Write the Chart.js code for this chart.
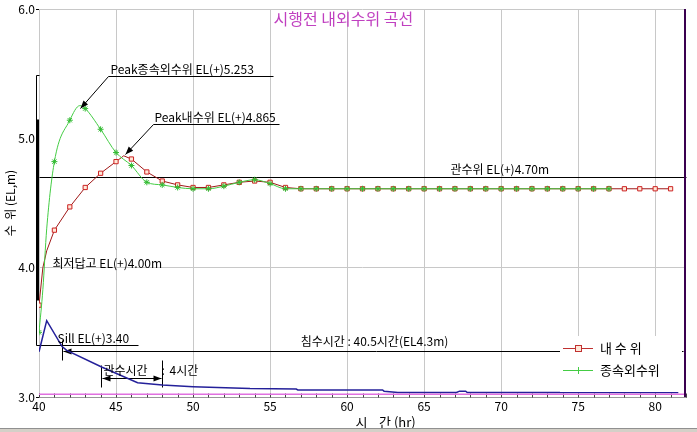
<!DOCTYPE html>
<html>
<head>
<meta charset="utf-8">
<script src="https://cdn.jsdelivr.net/npm/chart.js"></script>
<style>
  body { margin: 0; background: #fff; }
</style>
</head>
<body>
<canvas id="levelChart" width="697" height="432"></canvas>
<script>
    // 내수위 (hr / EL.m)
    var innerHours = [40, 40.25, 40.5, 41, 42, 43, 44, 45, 45.5, 46, 47, 48, 49, 50, 51, 52, 53, 54, 55, 56,
        57, 58, 59, 60, 61, 62, 63, 64, 65, 66, 67, 68, 69, 70, 71, 72, 73, 74, 75, 76, 77, 78, 79, 80, 81];
    var innerLevels = [3.71, 4.00, 4.13, 4.29, 4.47, 4.62, 4.73, 4.82, 4.865, 4.84, 4.74, 4.67, 4.64, 4.62, 4.62, 4.64, 4.66, 4.67, 4.66, 4.62,
        4.61, 4.61, 4.61, 4.61, 4.61, 4.61, 4.61, 4.61, 4.61, 4.61, 4.61, 4.61, 4.61, 4.61, 4.61, 4.61, 4.61, 4.61, 4.61, 4.61, 4.61, 4.61, 4.61, 4.61, 4.61];

    // 종속외수위
    var outerHours = [40, 40.25, 40.5, 41, 42, 42.65, 43, 44, 45, 46, 47, 48, 49, 50, 51, 52, 53, 54, 55, 56,
        57, 58, 59, 60, 61, 62, 63, 64, 65, 66, 67, 68, 69, 70, 71, 72, 73, 74, 75, 76, 77];
    var outerLevels = [3.50, 3.83, 4.30, 4.82, 5.14, 5.253, 5.23, 5.07, 4.89, 4.79, 4.66, 4.64, 4.62, 4.61, 4.61, 4.63, 4.66, 4.68, 4.65, 4.61,
        4.61, 4.61, 4.61, 4.61, 4.61, 4.61, 4.61, 4.61, 4.61, 4.61, 4.61, 4.61, 4.61, 4.61, 4.61, 4.61, 4.61, 4.61, 4.61, 4.61, 4.61];

    // 하단 유량곡선 (blue)
    var flowHours = [40, 40.5, 41.5, 41.8, 44.1, 46.4, 48, 50, 53.7, 56.7, 56.8, 62.3, 62.4, 63.3, 67.1, 67.3, 67.7, 67.8, 81.5];
    var flowLevels = [3.35, 3.59, 3.39, 3.36, 3.23, 3.11, 3.093, 3.08, 3.065, 3.062, 3.055, 3.055, 3.045, 3.035, 3.035, 3.045, 3.045, 3.035, 3.035];

    // 바닥선 (magenta)
    var baseHours = [40, 82];
    var baseLevels = [3.022, 3.022];

    var seriesNames = ['내 수 위', '종속외수위'];
    var xTicks = [40, 45, 50, 55, 60, 65, 70, 75, 80];
    var yTicks = [3.0, 4.0, 5.0, 6.0];

    var titleText = '시행전 내외수위 곡선';
    var peakOuter = 5.253, peakOuterText = 'Peak종속외수위 EL(+)5.253';
    var peakInner = 4.865, peakInnerText = 'Peak내수위 EL(+)4.865';
    var gwanLevel = 4.70, gwanText = '관수위 EL(+)4.70m';
    var lowLevel = 4.00, lowText = '최저답고 EL(+)4.00m';
    var sillLevel = 3.40, sillText = 'Sill EL(+)3.40';
    var floodStart = 41.5, floodEnd = 82, floodText = '침수시간 : 40.5시간(EL4.3m)';
    var gwanStart = 44, gwanEnd = 48, gwanTimeText = ['관수시간', ':', '4시간'];

    function pts(xs, ys) {
        return xs.map(function (x, i) { return { x: x, y: ys[i] }; });
    }

    var FONT = '"Noto Sans CJK KR", "Noto Sans", sans-serif';

    function arrow(c, x1, y1, x2, y2) {
        var a = Math.atan2(y2 - y1, x2 - x1), len = 8, w = 3;
        c.beginPath();
        c.moveTo(x1, y1);
        c.lineTo(x2, y2);
        c.stroke();
        c.beginPath();
        c.moveTo(x2, y2);
        c.lineTo(x2 - len * Math.cos(a) + w * Math.sin(a), y2 - len * Math.sin(a) - w * Math.cos(a));
        c.lineTo(x2 - len * Math.cos(a) - w * Math.sin(a), y2 - len * Math.sin(a) + w * Math.cos(a));
        c.closePath();
        c.fill();
    }

    function line(c, x1, y1, x2, y2) {
        c.beginPath();
        c.moveTo(x1, y1);
        c.lineTo(x2, y2);
        c.stroke();
    }

    var notesPlugin = {
        id: 'notes',
        beforeDatasetsDraw: function (chart) {
            var c = chart.ctx, xs = chart.scales.x, ys = chart.scales.y;
            var X = function (v) { return Math.round(xs.getPixelForValue(v)) + 0.5; };
            var Y = function (v) { return Math.round(ys.getPixelForValue(v)) + 0.5; };
            c.save();
            c.strokeStyle = '#000';
            c.fillStyle = '#000';
            c.lineWidth = 1;

            // 관수위 line
            line(c, X(40), Y(gwanLevel), X(82), Y(gwanLevel));
            // sill line
            line(c, X(39.8), Y(sillLevel), X(46.4), Y(sillLevel));
            // 침수시간 dimension
            var fy = Y(3.355);
            line(c, X(floodStart), Y(3.44), X(floodStart), Y(3.285));
            line(c, X(floodStart) + 8, fy, X(floodEnd) - 4, fy);
            arrow(c, X(floodStart) + 9, fy, X(floodStart) + 1, fy);
            arrow(c, X(floodEnd) - 10, fy, X(floodEnd) - 3, fy);
            // 관수시간 dimension
            var gy = Y(3.147);
            line(c, X(gwanStart), Y(3.245), X(gwanStart), Y(3.075));
            line(c, X(gwanEnd), Y(3.284), X(gwanEnd), Y(3.075));
            arrow(c, X(gwanEnd) - 10, gy, X(gwanStart) + 1, gy);
            arrow(c, X(gwanStart) + 10, gy, X(gwanEnd) - 1, gy);

            // 강우 bar on left
            line(c, X(39.8), Y(5.49), X(39.8), Y(sillLevel));
            line(c, X(39.8), Y(5.49), X(40), Y(5.49));
            c.lineWidth = 3;
            line(c, X(39.8) + 1, Y(5.153), X(39.8) + 1, Y(3.75));
            c.lineWidth = 1;

            // minor ticks
            c.strokeStyle = '#444';
            for (var h = 40; h <= 82; h++) {
                line(c, X(h), Y(3.0), X(h), Y(3.0) - 4);
            }
            c.restore();
        },
        afterDatasetsDraw: function (chart) {
            var c = chart.ctx, xs = chart.scales.x, ys = chart.scales.y, ca = chart.chartArea;
            var X = function (v) { return Math.round(xs.getPixelForValue(v)) + 0.5; };
            var Y = function (v) { return Math.round(ys.getPixelForValue(v)) + 0.5; };
            c.save();
            c.strokeStyle = '#000';
            c.fillStyle = '#000';
            c.lineWidth = 1;
            c.font = '12px ' + FONT;
            c.textBaseline = 'middle';
            c.textAlign = 'left';

            // Peak 종속외수위
            var ex = X(44.48), ey = Y(5.485);
            arrow(c, ex, ey, X(42.66), Y(peakOuter) + 2);
            line(c, ex, ey, X(55.2), ey);
            c.fillText(peakOuterText, ex + 2, ey - 7);

            // Peak 내수위
            ex = X(47.4); ey = Y(5.107);
            arrow(c, ex, ey, X(45.6), Y(peakInner) - 2);
            line(c, ex, ey, X(55.6), ey);
            c.fillText(peakInnerText, ex + 1, ey - 7);

            c.fillText(gwanText, X(66.7), Y(gwanLevel) - 8);
            c.fillText(lowText, X(40.85), Y(lowLevel) - 5);
            c.fillText(sillText, X(41.15), Y(sillLevel) - 7);
            c.textAlign = 'center';
            c.fillText(floodText, X(61.75), Y(3.355) - 10);
            c.textAlign = 'left';
            c.fillText(gwanTimeText[0], X(44.15), Y(3.147) - 8);
            c.fillText(gwanTimeText[1], X(48) - 1, Y(3.147) - 8);
            c.fillText(gwanTimeText[2], X(48.45), Y(3.147) - 8);

            // title
            c.font = '16px ' + FONT;
            c.fillStyle = '#c040c0';
            c.fillText(titleText, X(55.2), ca.top + 10);

            // x axis title
            c.font = '13px ' + FONT;
            c.fillStyle = '#000';
            c.fillText('시    간 (hr)', X(60.5), ca.bottom + 25);

            // right frame
            c.strokeStyle = '#3a0050';
            c.lineWidth = 2;
            line(c, ca.right - 1, ca.top, ca.right - 1, ca.bottom);

            // legend box
            var lx = ca.right - 126, ly = ca.bottom - 61;
            c.fillStyle = '#fff';
            c.fillRect(lx, ly, 122, 56);
            c.lineWidth = 1;
            c.strokeStyle = '#c03030';
            line(c, lx + 3, ly + 12.5, lx + 33, ly + 12.5);
            c.fillStyle = '#ffe8d8';
            c.fillRect(lx + 15.5, ly + 9.5, 6, 6);
            c.strokeRect(lx + 15.5, ly + 9.5, 6, 6);
            c.strokeStyle = '#44cc44';
            line(c, lx + 3, ly + 34.5, lx + 33, ly + 34.5);
            line(c, lx + 18.5, ly + 31, lx + 18.5, ly + 38);
            c.fillStyle = '#000';
            c.font = '13px ' + FONT;
            c.fillText(seriesNames[0], lx + 40, ly + 12);
            c.fillText(seriesNames[1], lx + 40, ly + 34);

            // window bottom edge
            c.fillStyle = '#d4d0c8';
            c.fillRect(0, 429, chart.width, 3);
            c.fillStyle = '#909090';
            c.fillRect(0, 428, chart.width, 1);
            c.restore();
        }
    };

    var markerOnHour = function (ctx) {
        return ctx.raw && Number.isInteger(ctx.raw.x) ? 3 : 0;
    };

    new Chart('levelChart', {
        type: 'line',
        data: {
            datasets: [{
                label: 'base',
                data: pts(baseHours, baseLevels),
                borderColor: '#e070e0',
                borderWidth: 1.5,
                pointRadius: 0
            }, {
                label: 'flow',
                data: pts(flowHours, flowLevels),
                borderColor: '#24209a',
                borderWidth: 1.5,
                pointRadius: 0
            }, {
                label: seriesNames[1],
                data: pts(outerHours, outerLevels),
                borderColor: '#44cc44',
                borderWidth: 1,
                cubicInterpolationMode: 'monotone',
                pointStyle: 'star',
                pointRadius: markerOnHour,
                pointBorderColor: '#33bb33',
                pointBackgroundColor: '#33bb33'
            }, {
                label: seriesNames[0],
                data: pts(innerHours, innerLevels),
                borderColor: '#a01818',
                borderWidth: 1,
                pointStyle: 'rect',
                pointRadius: markerOnHour,
                pointBorderColor: '#cc2222',
                pointBackgroundColor: '#ffe8d8',
                pointBorderWidth: 1
            }]
        },
        options: {
            responsive: false,
            animation: false,
            layout: { padding: { top: 9, right: 11, left: 0, bottom: 0 } },
            plugins: {
                legend: { display: false },
                tooltip: { enabled: false }
            },
            scales: {
                x: {
                    type: 'linear',
                    min: 40,
                    max: 82,
                    afterBuildTicks: function (scale) {
                        scale.ticks = xTicks.map(function (v) { return { value: v }; });
                    },
                    afterFit: function (scale) { scale.height = 35; },
                    ticks: {
                        color: '#000',
                        font: { family: FONT, size: 12 },
                        padding: 2,
                        maxRotation: 0,
                        callback: function (v) { return v; }
                    },
                    grid: { color: '#c8c8c8', drawTicks: false },
                    border: { color: '#999' }
                },
                y: {
                    min: 3,
                    max: 6,
                    afterBuildTicks: function (scale) {
                        scale.ticks = yTicks.map(function (v) { return { value: v }; });
                    },
                    afterFit: function (scale) { scale.width = 39; },
                    ticks: {
                        color: '#000',
                        font: { family: FONT, size: 12 },
                        padding: 1,
                        callback: function (v) { return v.toFixed(1); }
                    },
                    grid: {
                        color: function (ctx) {
                            return ctx.tick && ctx.tick.value === 5 ? 'rgba(0,0,0,0)' : '#c8c8c8';
                        },
                        tickLength: 3,
                        tickColor: '#000'
                    },
                    border: { display: false },
                    title: {
                        display: true,
                        text: '수  위 (EL,m)',
                        color: '#000',
                        font: { family: FONT, size: 12 },
                        padding: { top: 3, bottom: 0 }
                    }
                }
            }
        },
        plugins: [notesPlugin]
    });
</script>
</body>
</html>
